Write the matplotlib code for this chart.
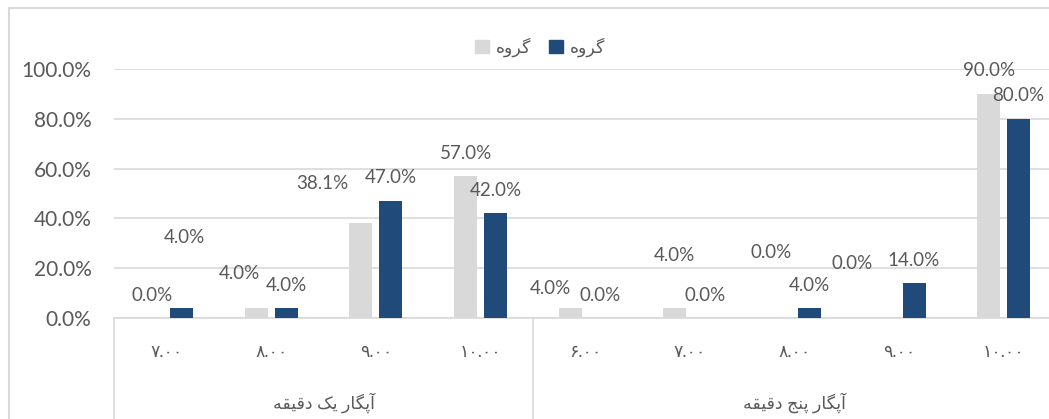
import matplotlib
matplotlib.use('Agg')
import matplotlib.pyplot as plt
from matplotlib.patches import Rectangle, Patch
import matplotlib.transforms as mtransforms

# data
group_names = ['آپگار یک دقیقه', 'آپگار پنج دقیقه']
group_sizes = [4, 5]
tick_labels = ['۷.۰۰', '۸.۰۰', '۹.۰۰', '۱۰.۰۰', '۶.۰۰', '۷.۰۰', '۸.۰۰', '۹.۰۰', '۱۰.۰۰']
series_names = ['گروه', 'گروه']
gray_vals = [0.0, 4.0, 38.1, 57.0, 4.0, 4.0, 0.0, 0.0, 90.0]
blue_vals = [4.0, 4.0, 47.0, 42.0, 0.0, 0.0, 4.0, 14.0, 80.0]

# labels that were dragged by hand in the original (pixels)
gray_nudge = [(0, 0), (-17, 12), (-39, 17), (0, 0), (-20, -3), (0, 30), (-8, 43), (-32, 32), (0, 0)]
blue_nudge = [(3, 48), (0, 0), (0, 0), (0, 0), (0, 0), (0, 0), (0, 0), (0, 0), (0, 0)]

GRAY = '#D9D9D9'
BLUE = '#1F4A7A'
TXT = '#595959'
FONT = ['Lato', 'DejaVu Sans']

# simple persian shaping, matplotlib has no text layout for arabic script
FORMS = {
    '\u0622': ('\uFE81', '\uFE82', None, None),
    '\u0627': ('\uFE8D', '\uFE8E', None, None),
    '\u067E': ('\uFB56', '\uFB57', '\uFB58', '\uFB59'),
    '\u06AF': ('\uFB92', '\uFB93', '\uFB94', '\uFB95'),
    '\u0631': ('\uFEAD', '\uFEAE', None, None),
    '\u06CC': ('\uFBFC', '\uFBFD', '\uFEF3', '\uFEF4'),
    '\u064A': ('\uFBFC', '\uFBFD', '\uFEF3', '\uFEF4'),
    '\u06A9': ('\uFB8E', '\uFB8F', '\uFB90', '\uFB91'),
    '\u0643': ('\uFB8E', '\uFB8F', '\uFB90', '\uFB91'),
    '\u062F': ('\uFEA9', '\uFEAA', None, None),
    '\u0642': ('\uFED5', '\uFED6', '\uFED7', '\uFED8'),
    '\u0647': ('\uFEE9', '\uFEEA', '\uFEEB', '\uFEEC'),
    '\u0646': ('\uFEE5', '\uFEE6', '\uFEE7', '\uFEE8'),
    '\u062C': ('\uFE9D', '\uFE9E', '\uFE9F', '\uFEA0'),
    '\u0648': ('\uFEED', '\uFEEE', None, None),
}


def shape(s):
    out = []
    for i, ch in enumerate(s):
        if ch not in FORMS:
            out.append(ch)
            continue
        prev = s[i - 1] if i > 0 else ''
        nxt = s[i + 1] if i + 1 < len(s) else ''
        iso, fin, ini, med = FORMS[ch]
        j_prev = prev in FORMS and FORMS[prev][2] is not None
        j_next = ini is not None and nxt in FORMS
        if j_prev and j_next:
            out.append(med)
        elif j_prev:
            out.append(fin)
        elif j_next:
            out.append(ini)
        else:
            out.append(iso)
    return ''.join(reversed(out))


W, H = 1049, 419
fig = plt.figure(figsize=(W / 100, H / 100), dpi=100)
fig.patch.set_facecolor('white')

# chart frame
fig.patches.append(Rectangle((9 / W, -0.1), 1.2, 1 - 8 / H + 0.1, transform=fig.transFigure,
                             fill=False, edgecolor='#D9D9D9', lw=1.5))

ax = fig.add_axes([114.3 / W, 101 / H, (1056 - 114.3) / W, 249 / H])
x = list(range(len(tick_labels)))
w = 0.22
off = 0.143
ax.bar([i - off for i in x], gray_vals, w, color=GRAY, zorder=3)
ax.bar([i + off for i in x], blue_vals, w, color=BLUE, zorder=3)

ax.set_xlim(-0.5, len(x) - 0.5)
ax.set_ylim(0, 100)
ax.set_yticks([0, 20, 40, 60, 80, 100])
ax.set_yticklabels([f'{v:.1f}%' for v in [0, 20, 40, 60, 80, 100]], fontsize=15,
                   color=TXT, family=FONT)
ax.tick_params(axis='y', length=0, pad=16.5)
ax.set_xticks([])
ax.yaxis.grid(True, color='#D9D9D9', lw=1.2, zorder=0)
for s in ['top', 'right', 'left']:
    ax.spines[s].set_visible(False)
ax.spines['bottom'].set_color('#D9D9D9')
ax.spines['bottom'].set_linewidth(1.2)

# data labels
for i in x:
    dx, dy = gray_nudge[i]
    ax.annotate(f'{gray_vals[i]:.1f}%', (i - off, gray_vals[i]), xytext=(dx, 23 + dy),
                textcoords='offset pixels', ha='center', va='center', fontsize=13.5,
                color=TXT, family=FONT, zorder=5)
    dx, dy = blue_nudge[i]
    ax.annotate(f'{blue_vals[i]:.1f}%', (i + off, blue_vals[i]), xytext=(dx, 23 + dy),
                textcoords='offset pixels', ha='center', va='center', fontsize=13.5,
                color=TXT, family=FONT, zorder=5)

# two level category axis
trans = mtransforms.blended_transform_factory(ax.transData, ax.transAxes)
for i in x:
    ax.text(i, -0.137, tick_labels[i], transform=trans, ha='center', va='center',
            fontsize=12.5, color=TXT, family=FONT)

start = -0.5
ax.plot([start, start], [0, -0.5], transform=trans, color='#D9D9D9', lw=1.2, clip_on=False)
for name, n in zip(group_names, group_sizes):
    end = start + n
    ax.plot([end, end], [0, -0.5], transform=trans, color='#D9D9D9', lw=1.2, clip_on=False)
    ax.text((start + end) / 2, -0.34, shape(name), transform=trans, ha='center', va='center',
            fontsize=12.5, color=TXT, family=FONT)
    start = end

handles = [Patch(color=GRAY, label=shape(series_names[0])),
           Patch(color=BLUE, label=shape(series_names[1]))]
fig.legend(handles=handles, loc='center', bbox_to_anchor=(540 / W, 1 - 47 / H), ncol=2,
           frameon=False, prop={'family': FONT, 'size': 12.5}, labelcolor=TXT,
           handlelength=0.8, handleheight=0.8, handletextpad=0.4, columnspacing=1.0)

fig.savefig('out.png', dpi=100)
